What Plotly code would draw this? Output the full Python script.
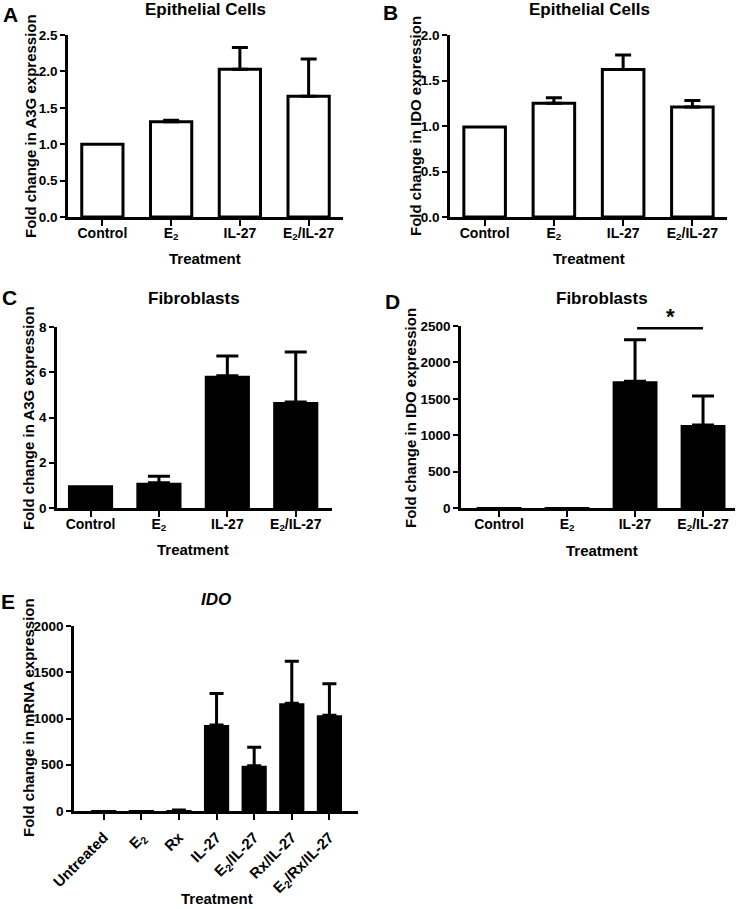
import plotly.graph_objects as go

W, H = 739, 909

# ---------------- data ----------------
cats4 = ["Control", "E<sub>2</sub>", "IL-27", "E<sub>2</sub>/IL-27"]
catsE = ["Untreated", "E<sub>2</sub>", "Rx", "IL-27", "E<sub>2</sub>/IL-27",
         "Rx/IL-27", "E<sub>2</sub>/Rx/IL-27"]

a_vals = [1.0, 1.31, 2.03, 1.66]
a_err = [0.0, 0.02, 0.30, 0.51]

b_vals = [0.99, 1.25, 1.62, 1.21]
b_err = [0.0, 0.06, 0.16, 0.07]

c_vals = [1.0, 1.12, 5.85, 4.68]
c_err = [0.0, 0.28, 0.87, 2.22]

d_vals = [1.0, 2.0, 1740, 1140]
d_err = [0.0, 0.0, 570, 400]

e_vals = [1.0, 1.5, 8.0, 930, 490, 1165, 1035]
e_err = [0.0, 0.0, 3.0, 340, 200, 455, 340]

titles = ["Epithelial Cells", "Epithelial Cells", "Fibroblasts", "Fibroblasts", "<i>IDO</i>"]
ylabels = ["Fold change in A3G expression", "Fold change in IDO expression",
           "Fold change in A3G expression", "Fold change in IDO expression",
           "Fold change in mRNA expression"]
letters = ["A", "B", "C", "D", "E"]

FONT = "Liberation Sans, Arial, sans-serif"


def px(x):
    return x / W


def py(y):
    return 1 - y / H


fig = go.Figure()

# panel geometry in pixels: (x0, x1, ytop, ybottom)
panels = [
    dict(x=(68, 343), y=(35, 217), xr=[-0.5, 3.5], yr=[0, 2.5], dt=0.5, fmt=".1f",
         cats=cats4, vals=a_vals, err=a_err, fill="white", lw=3, width=0.6, cap=8),
    dict(x=(450, 727), y=(35, 217), xr=[-0.5, 3.5], yr=[0, 2.0], dt=0.5, fmt=".1f",
         cats=cats4, vals=b_vals, err=b_err, fill="white", lw=3, width=0.6, cap=8),
    dict(x=(57, 332), y=(327, 508), xr=[-0.49, 3.53], yr=[0, 8], dt=2, fmt="d",
         cats=cats4, vals=c_vals, err=c_err, fill="black", lw=0, width=0.66, cap=11),
    dict(x=(461, 735), y=(326, 508), xr=[-0.56, 3.47], yr=[0, 2500], dt=500, fmt="d",
         cats=cats4, vals=d_vals, err=d_err, fill="black", lw=0, width=0.66, cap=11),
    dict(x=(74, 358), y=(626, 811), xr=[-0.79, 6.76], yr=[0, 2000], dt=500, fmt="d",
         cats=catsE, vals=e_vals, err=e_err, fill="black", lw=0, width=0.67, cap=7),
]

layout = dict(
    template="none",
    width=W, height=H, autosize=False,
    margin=dict(l=0, r=0, t=0, b=0, pad=0),
    paper_bgcolor="white", plot_bgcolor="white",
    showlegend=False,
    font=dict(family=FONT, color="black"),
)

annotations = []
shapes = []

for i, p in enumerate(panels):
    n = i + 1
    xa = "x" if n == 1 else f"x{n}"
    ya = "y" if n == 1 else f"y{n}"
    xk = "xaxis" if n == 1 else f"xaxis{n}"
    yk = "yaxis" if n == 1 else f"yaxis{n}"
    idx = list(range(len(p["cats"])))
    fig.add_trace(go.Bar(
        x=idx, y=p["vals"], xaxis=xa, yaxis=ya,
        width=p["width"],
        marker=dict(color=p["fill"], line=dict(color="black", width=p["lw"])),
        cliponaxis=False,
    ))
    # upper-only error bars, drawn only where an error exists
    keep = [k for k in idx if p["err"][k] > 0]
    fig.add_trace(go.Scatter(
        x=[idx[k] for k in keep], y=[p["vals"][k] for k in keep],
        xaxis=xa, yaxis=ya, mode="markers",
        marker=dict(size=1, color="rgba(0,0,0,0)"),
        error_y=dict(type="data", symmetric=False,
                     array=[p["err"][k] for k in keep],
                     arrayminus=[0] * len(keep),
                     color="black", thickness=3, width=p["cap"]),
        cliponaxis=False, hoverinfo="skip",
    ))
    layout[xk] = dict(
        domain=[px(p["x"][0]), px(p["x"][1])], anchor=ya,
        range=p["xr"], tickmode="array", tickvals=idx, ticktext=p["cats"],
        showline=True, linecolor="black", linewidth=2.5,
        ticks="outside", ticklen=6, tickwidth=2, tickcolor="black",
        showgrid=False, zeroline=False, fixedrange=True, automargin=False,
        tickfont=dict(family=FONT, size=15 if n == 5 else 14, color="black", weight="bold"),
        tickangle=-45 if n == 5 else 0,
        ticklabelstandoff=3 if n == 5 else -5,
    )
    layout[yk] = dict(
        domain=[py(p["y"][1]), py(p["y"][0])], anchor=xa,
        range=p["yr"], dtick=p["dt"], tick0=0, tickformat=p["fmt"],
        showline=True, linecolor="black", linewidth=2.5,
        ticks="outside", ticklen=5, tickwidth=2, tickcolor="black",
        showgrid=False, zeroline=False, fixedrange=True, automargin=False,
        tickfont=dict(family=FONT, size=13.5, color="black", weight="bold"),
    )

# titles, axis labels, panel letters (pixel positions)
title_pos = [(205, 9), (589, 9), (194, 298), (602, 298), (216, 599)]
ylab_pos = [(30, 126), (415, 126), (28, 418), (410, 418), (28, 718)]
xlab_pos = [(205, 258), (589, 258), (193, 549), (602, 550), (217, 898)]
letter_pos = [(10, 15), (391, 12), (9, 297), (392, 301), (8, 601)]

for i in range(5):
    tx, ty = title_pos[i]
    annotations.append(dict(x=px(tx), y=py(ty), xref="paper", yref="paper",
                            text=titles[i], showarrow=False, xanchor="center", yanchor="middle",
                            font=dict(family=FONT, size=17, color="black", weight="bold")))
    lx, ly = ylab_pos[i]
    annotations.append(dict(x=px(lx), y=py(ly), xref="paper", yref="paper",
                            text=ylabels[i], showarrow=False, textangle=-90,
                            xanchor="center", yanchor="middle",
                            font=dict(family=FONT, size=15, color="black", weight="bold")))
    bx, by = xlab_pos[i]
    annotations.append(dict(x=px(bx), y=py(by), xref="paper", yref="paper",
                            text="Treatment", showarrow=False, xanchor="center", yanchor="middle",
                            font=dict(family=FONT, size=15, color="black", weight="bold")))
    cx, cy = letter_pos[i]
    annotations.append(dict(x=px(cx), y=py(cy), xref="paper", yref="paper",
                            text=letters[i], showarrow=False, xanchor="center", yanchor="middle",
                            font=dict(family=FONT, size=21, color="black", weight="bold")))

# significance bar in panel D
sig_x = [2.03, 3.0]
sig_y = 2470
shapes.append(dict(type="line", xref="x4", yref="y4", x0=sig_x[0], x1=sig_x[1],
                   y0=sig_y, y1=sig_y, line=dict(color="black", width=2.5)))
annotations.append(dict(x=sum(sig_x) / 2, y=py(316), xref="x4", yref="paper",
                        text="*", showarrow=False, xanchor="center", yanchor="middle",
                        font=dict(family=FONT, size=22, color="black", weight="bold")))

layout["annotations"] = annotations
layout["shapes"] = shapes
fig.update_layout(**layout)

fig.write_html("out.html", config={"displayModeBar": False},
               post_script="document.body.style.margin='0';document.body.style.overflow='hidden';")
